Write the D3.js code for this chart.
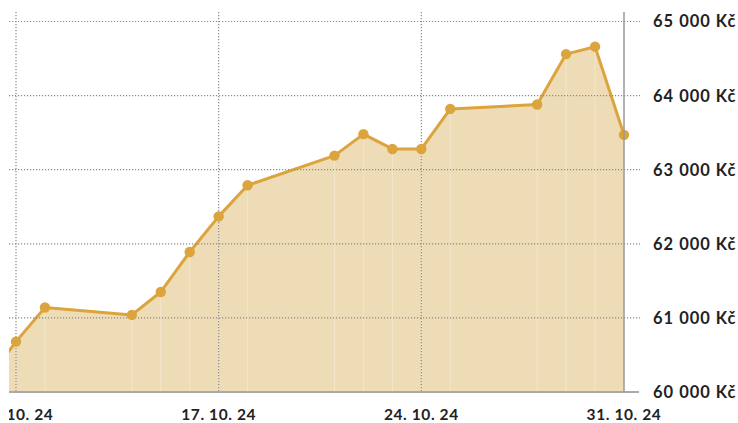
<!DOCTYPE html>
<html lang="cs">
<head>
<meta charset="UTF-8">
<title>Cena zlata</title>
<script src="https://cdn.jsdelivr.net/npm/d3@7"></script>
<style>
    html, body { margin: 0; padding: 0; background: #fff; }
    svg { display: block; }
    .lbl { font-family: Lato, "Noto Sans", sans-serif; font-weight: 700; font-size: 15.5px; fill: #222; letter-spacing: 0.6px; }
    .ylab { font-size: 16.5px; letter-spacing: 1px; }
</style>
</head>
<body>
<script>
    // data
    let dates = ["2024-10-09", "2024-10-10", "2024-10-11", "2024-10-14", "2024-10-15", "2024-10-16",
                 "2024-10-17", "2024-10-18", "2024-10-21", "2024-10-22", "2024-10-23", "2024-10-24",
                 "2024-10-25", "2024-10-28", "2024-10-29", "2024-10-30", "2024-10-31"];
    let prices = [60160, 60680, 61140, 61040, 61350, 61890,
                  62370, 62790, 63190, 63480, 63280, 63280,
                  63820, 63880, 64560, 64660, 63470];
    let xTicks = ["2024-10-10", "2024-10-17", "2024-10-24", "2024-10-31"];
    let yTicks = [60000, 61000, 62000, 63000, 64000, 65000];

    let width = 738, height = 423;
    let plot = { left: 9, right: 624, top: 12, bottom: 392 };

    let parse = d3.timeParse("%Y-%m-%d");
    let data = dates.map((d, i) => ({ date: parse(d), value: prices[i] }));

    let xScale = d3.scaleTime()
                   .domain([parse("2024-10-10"), parse("2024-10-31")])
                   .range([16, plot.right]);
    let yScale = d3.scaleLinear()
                   .domain([60000, 65000])
                   .range([plot.bottom, 21.5]);

    let cz = d3.formatLocale({ decimal: ",", thousands: " ", grouping: [3], currency: ["", " Kč"] });
    let fmtY = d => cz.format(",.0f")(d) + " Kč";
    let fmtX = d3.timeFormat("%-d. %-m. %y");

    let svg = d3.select("body").append("svg")
                .attr("width", width)
                .attr("height", height);

    svg.append("clipPath").attr("id", "clipAll")
       .append("rect").attr("x", plot.left).attr("y", 0)
       .attr("width", width - plot.left).attr("height", height);
    svg.append("clipPath").attr("id", "clipPlot")
       .append("rect").attr("x", plot.left).attr("y", 0)
       .attr("width", plot.right - plot.left).attr("height", plot.bottom);

    let g = svg.append("g").attr("clip-path", "url(#clipAll)");

    /* area + line */
    let area = d3.area()
                 .x(d => xScale(d.date))
                 .y0(yScale(60000))
                 .y1(d => yScale(d.value));
    let line = d3.line()
                 .x(d => xScale(d.date))
                 .y(d => yScale(d.value));

    let pg = g.append("g").attr("clip-path", "url(#clipPlot)");
    pg.append("path").datum(data)
      .attr("d", area)
      .attr("fill", "#eedcb6");

    // faint vertical lines in the fill under each point
    pg.selectAll(".vline").data(data).enter().append("line")
      .attr("x1", d => xScale(d.date)).attr("x2", d => xScale(d.date))
      .attr("y1", d => yScale(d.value)).attr("y2", plot.bottom)
      .attr("stroke", "#f3e6cb").attr("stroke-width", 1);

    /* gridlines */
    g.selectAll(".hgrid").data(yTicks.slice(1)).enter().append("line")
     .attr("x1", plot.left).attr("x2", 640)
     .attr("y1", d => yScale(d)).attr("y2", d => yScale(d))
     .attr("stroke", "#8a8a8a").attr("stroke-width", 1.2)
     .attr("stroke-dasharray", "1.2,1.8");

    g.selectAll(".vgrid").data(xTicks.slice(0, 3)).enter().append("line")
     .attr("x1", d => xScale(parse(d))).attr("x2", d => xScale(parse(d)))
     .attr("y1", plot.top).attr("y2", plot.bottom)
     .attr("stroke", "#8a8a8a").attr("stroke-width", 1.2)
     .attr("stroke-dasharray", "1.2,1.8");

    pg.append("path").datum(data)
      .attr("d", line)
      .attr("fill", "none")
      .attr("stroke", "#dba43c")
      .attr("stroke-width", 3)
      .attr("stroke-linejoin", "round");

    g.selectAll(".dot").data(data).enter().append("circle")
     .attr("cx", d => xScale(d.date))
     .attr("cy", d => yScale(d.value))
     .attr("r", 5.2)
     .attr("fill", "#dba43c");

    /* axes */
    g.append("line")
     .attr("x1", plot.left).attr("x2", 639)
     .attr("y1", plot.bottom).attr("y2", plot.bottom)
     .attr("stroke", "#aaa").attr("stroke-width", 2);
    g.append("line")
     .attr("x1", plot.right).attr("x2", plot.right)
     .attr("y1", plot.top).attr("y2", plot.bottom)
     .attr("stroke", "#999").attr("stroke-width", 1.5);

    g.selectAll(".ylbl").data(yTicks).enter().append("text")
     .attr("class", "lbl ylab")
     .attr("x", 653)
     .attr("y", d => yScale(d))
     .attr("dy", "0.36em")
     .text(fmtY);

    g.selectAll(".xlbl").data(xTicks).enter().append("text")
     .attr("class", "lbl")
     .attr("x", d => xScale(parse(d)))
     .attr("y", 420)
     .attr("text-anchor", "middle")
     .text(d => fmtX(parse(d)));
</script>
</body>
</html>
